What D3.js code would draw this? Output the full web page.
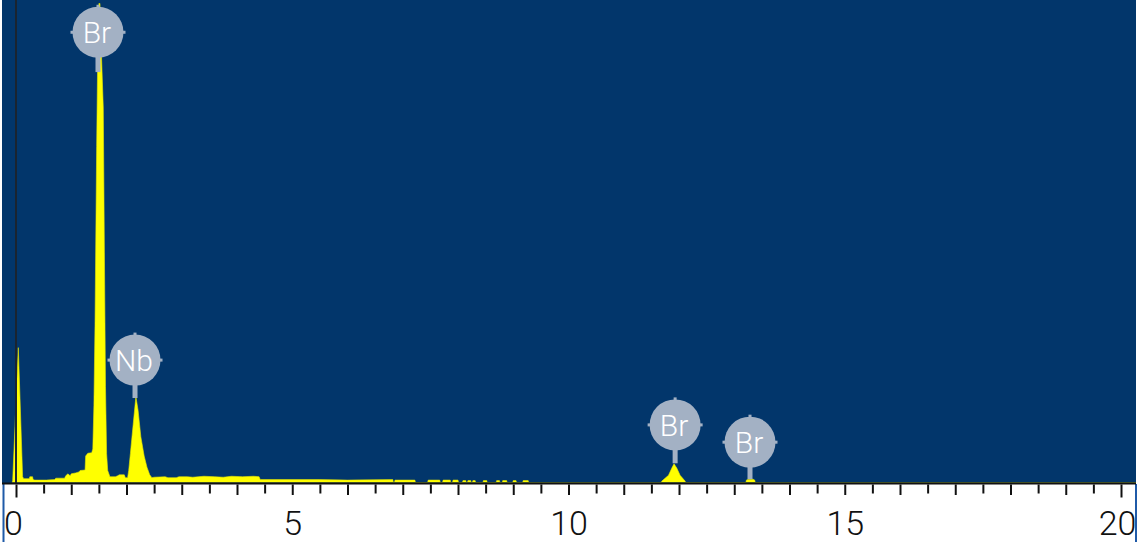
<!DOCTYPE html>
<html>
<head>
<meta charset="utf-8">
<script src="https://cdn.jsdelivr.net/npm/d3@7"></script>
<style>
  html, body { margin: 0; padding: 0; background: #ffffff; }
  svg { display: block; }
</style>
</head>
<body>
<svg id="chart" width="1138" height="542"></svg>
<script>
// ---- data (keV vs counts) ----
const spectrumEnergy = [
  -0.07, -0.06, 0.042, 0.12, 0.14, 0.24, 0.25, 0.30, 0.31, 0.34, 0.40, 0.55, 0.70,
  0.72, 0.88, 0.90, 0.94, 0.98, 1.00, 1.08, 1.14, 1.16, 1.25, 1.26, 1.30, 1.37,
  1.39, 1.41, 1.43, 1.46, 1.48, 1.50, 1.52, 1.55, 1.58, 1.60, 1.62, 1.64, 1.66, 1.70,
  1.80, 1.84, 1.87, 1.96, 1.98, 2.02,
  2.04, 2.07, 2.12, 2.17, 2.21, 2.26, 2.32, 2.37, 2.42, 2.46,
  2.50, 2.70, 2.75, 2.90, 2.95, 3.10, 3.20, 3.40, 3.60, 3.75, 3.90, 4.10, 4.30, 4.40, 4.42,
  4.43, 5.50, 6.00, 6.82,
  6.83, 6.85, 6.86, 7.22, 7.23,
  7.45, 7.46, 7.67, 7.68,
  7.72, 7.73, 7.86, 7.87,
  7.90, 7.91, 8.00, 8.01,
  8.08, 8.09, 8.14, 8.15,
  8.17, 8.18, 8.23, 8.24,
  8.26, 8.27, 8.31, 8.32,
  8.45, 8.46, 8.52, 8.53,
  8.69, 8.70, 8.75, 8.76,
  8.80, 8.81, 8.88, 8.89,
  8.99, 9.00, 9.05, 9.06,
  9.17, 9.18, 9.27, 9.28,
  11.68, 11.69, 11.81, 11.87, 11.91, 11.96, 12.02, 12.11, 12.12,
  13.21, 13.22, 13.26, 13.34, 13.37, 13.38,
  20.5
];
const spectrumCounts = [
  0, 4, 281, 12, 8, 8, 12, 12, 6, 5, 5, 5, 6,
  9, 9, 14, 18, 14, 18, 20, 22, 25, 26, 55, 61, 62,
  70, 160, 330, 700, 900, 998, 998, 880, 780, 480, 200, 60, 25, 12,
  12, 14, 16, 16, 10, 10,
  25, 60, 120, 179, 150, 95, 55, 32, 16, 10,
  11, 12, 10, 10, 12, 12, 11, 13, 12, 11, 13, 12, 13, 12, 6,
  6, 6, 5, 6,
  0, 0, 5, 5, 0,
  0, 5, 5, 0,
  0, 5, 5, 0,
  0, 5, 5, 0,
  0, 4, 4, 0,
  0, 4, 4, 0,
  0, 4, 4, 0,
  0, 4, 4, 0,
  0, 4, 4, 0,
  0, 4, 4, 0,
  0, 4, 4, 0,
  0, 4, 4, 0,
  0, 3, 15, 30, 39, 30, 15, 3, 0,
  0, 5, 7, 7, 5, 0,
  0
];
const peakLabels   = ["Br", "Nb", "Br", "Br"];
const labelEnergy  = [1.484, 2.154, 11.93, 13.285];
const labelCounts  = [938, 255, 120, 84];
const stemEndCounts = [855, 176, 40, 7];
const tickValues = d3.range(0, 20.001, 0.5);
const tickLabels = [0, 5, 10, 15, 20];

// ---- layout ----
const W = 1138, H = 542;
const plotLeft = 2, plotRight = 1136, plotTop = 0, baseY = 482.5;
const svg = d3.select("#chart");

const x = d3.scaleLinear().domain([0, 20]).range([16, 1121]);
const y = d3.scaleLinear().domain([0, 1000]).range([baseY, 2.5]);

// background
svg.append("rect").attr("x", 0).attr("y", 0).attr("width", W).attr("height", H).attr("fill", "#ffffff");
svg.append("rect").attr("x", plotLeft).attr("y", plotTop)
  .attr("width", plotRight - plotLeft).attr("height", 484 - plotTop).attr("fill", "#02366b");
// thin blue borders below
svg.append("rect").attr("x", 2.5).attr("y", 484).attr("width", 2).attr("height", H - 484).attr("fill", "#1f5aa8");
svg.append("rect").attr("x", 1135).attr("y", 484).attr("width", 2).attr("height", H - 484).attr("fill", "#1f5aa8");

svg.append("clipPath").attr("id", "plotclip").append("rect")
  .attr("x", plotLeft).attr("y", plotTop).attr("width", plotRight - plotLeft).attr("height", baseY - plotTop);

const pts = spectrumEnergy.map((e, i) => [e, spectrumCounts[i]]);
const area = d3.area().x(d => x(d[0])).y0(y(0)).y1(d => y(d[1])).curve(d3.curveLinear);
svg.append("path").datum(pts).attr("clip-path", "url(#plotclip)")
  .attr("d", area).attr("fill", "#ffff00").attr("stroke", "#e8e800").attr("stroke-width", 0.6);

// vertical zero line
svg.append("line").attr("x1", x(0)).attr("x2", x(0)).attr("y1", 0).attr("y2", 484)
  .attr("stroke", "#1a2430").attr("stroke-width", 2);

// axis
const axisG = svg.append("g").attr("transform", "translate(0,484.5)");
const axis = d3.axisBottom(x).tickValues(tickValues).tickSize(9)
  .tickFormat(d => tickLabels.includes(d) ? String(d) : "");
axisG.call(axis);
axisG.select(".domain").remove();
axisG.selectAll(".tick line").attr("stroke", "#111").attr("stroke-width", 2)
  .attr("y2", d => (d === 0 || d === 20) ? 13 : (d % 1 === 0 ? 10.5 : 9));
axisG.selectAll(".tick text")
  .attr("y", 50).attr("dy", null)
  .attr("dx", d => d === 0 ? -3 : (d === 20 ? -4 : 0))
  .attr("fill", "#111")
  .style("font-family", "Roboto, 'Liberation Sans', sans-serif")
  .style("font-weight", 300)
  .style("font-size", "34px");
// baseline
svg.append("line").attr("x1", plotLeft).attr("x2", plotRight).attr("y1", 483.5).attr("y2", 483.5)
  .attr("stroke", "#111").attr("stroke-width", 2);

// peak labels
const lab = svg.append("g");
peakLabels.forEach((t, i) => {
  const cx = x(labelEnergy[i]), cy = y(labelCounts[i]);
  const r = 25.5;
  const col = "#a3b1c4";
  lab.append("rect").attr("x", cx - 2.5).attr("y", cy).attr("width", 5)
    .attr("height", y(stemEndCounts[i]) - cy).attr("fill", col);
  lab.append("circle").attr("cx", cx).attr("cy", cy).attr("r", r).attr("fill", col);
  [[0, -1], [-1, 0], [1, 0]].forEach(([dx, dy]) => {
    lab.append("rect").attr("x", cx + dx * (r + 0.5) - 1.5).attr("y", cy + dy * (r + 0.5) - 1.5)
      .attr("width", 3).attr("height", 3).attr("fill", col);
  });
  lab.append("text").attr("x", cx - 1).attr("y", cy + 11)
    .attr("text-anchor", "middle").attr("fill", "#ffffff")
    .style("font-family", "Roboto, 'Liberation Sans', sans-serif")
    .style("font-weight", 300)
    .style("font-size", "30px")
    .text(t);
});
</script>
</body>
</html>
